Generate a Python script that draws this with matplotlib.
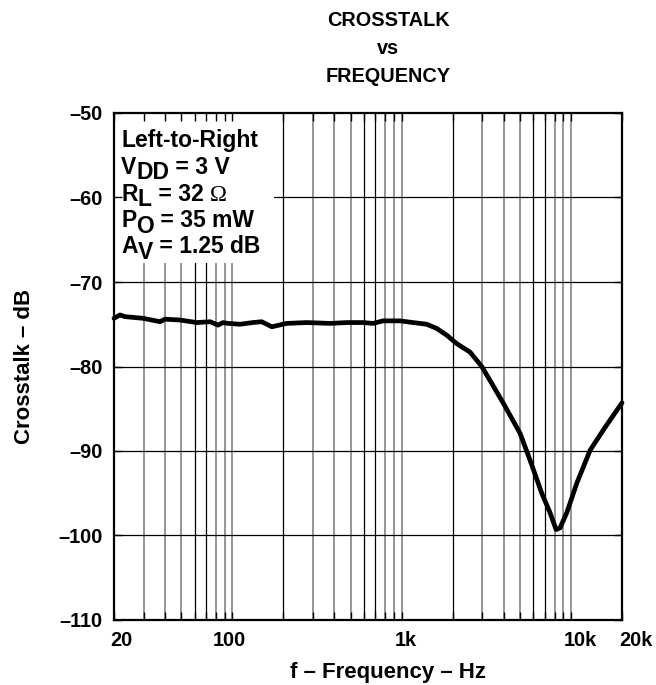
import matplotlib
matplotlib.use("Agg")
import matplotlib.pyplot as plt
import matplotlib.transforms as mtransforms
from matplotlib.patches import Rectangle

plt.rcParams['font.family'] = ['Liberation Sans', 'DejaVu Sans']
plt.rcParams['font.weight'] = 'bold'

# crosstalk curve
freq = [20, 21.7, 23.2, 29.8, 37.4, 40, 49, 61.6, 73.8, 82.3,
        88.1, 94.3, 111, 132, 149, 171, 209, 275, 378, 473,
        592, 678, 776, 978, 1167, 1406, 1611, 1846, 2114, 2535,
        2971, 3403, 3970, 5001, 5731, 6718, 7517, 8165, 8614, 9440,
        10820, 12970, 15890, 20000]
xtalk = [-74.3, -73.9, -74.1, -74.3, -74.7, -74.4, -74.5, -74.8, -74.7, -75.1,
         -74.8, -74.9, -75.0, -74.8, -74.7, -75.3, -74.9, -74.8, -74.9, -74.8,
         -74.8, -74.9, -74.6, -74.6, -74.8, -75.0, -75.5, -76.3, -77.3, -78.3,
         -80.0, -82.0, -84.3, -87.9, -91.1, -95.0, -97.3, -99.3, -99.1, -97.3,
         -93.8, -89.9, -87.2, -84.3]

xticks = [20, 100, 1000, 10000, 20000]
xticklabels = ['20', '100', '1k', '10k', '20k']
yticks = [-110, -100, -90, -80, -70, -60, -50]
yticklabels = ['\u2013110', '\u2013100', '\u201390', '\u201380', '\u201370', '\u201360', '\u201350']

FS_TICK = 14.3
FS_TITLE = 14.3
FS_LAB = 16
FS_COND = 16.5

fig = plt.figure(figsize=(6.56, 6.85), dpi=100)
ax = fig.add_axes([114 / 656, 65 / 685, 508 / 656, 507 / 685])
ax.set_xscale('log')
ax.set_xlim(20, 20000)
ax.set_ylim(-110, -50)

# grid: gray minor lines, black lines at 2, 6, 7 of each decade
for dec in [10, 100, 1000]:
    for m in range(2, 11):
        f = m * dec
        if f <= 20 or f >= 20000:
            continue
        if m in (2, 6, 7):
            ax.axvline(f, color='black', lw=0.9, zorder=1)
        else:
            ax.axvline(f, color='#8c8c8c', lw=1.3, zorder=1)
for y in yticks[1:-1]:
    ax.axhline(y, color='black', lw=0.9, zorder=1)

# white box behind the conditions text
ax.add_patch(Rectangle((20, -67.75), 155, 20, facecolor='white', edgecolor='none', zorder=1.5))

ax.plot(freq, xtalk, color='black', lw=3.4, solid_joinstyle='round', solid_capstyle='round',
        zorder=4, clip_on=False)

ax.set_xticks(xticks)
ax.set_xticklabels(xticklabels)
ax.set_yticks(yticks)
ax.set_yticklabels(yticklabels)
ax.xaxis.set_minor_formatter(plt.NullFormatter())
ax.tick_params(which='both', direction='in', top=True, right=True, length=6, width=1, pad=8,
               labelsize=FS_TICK)
for lab in ax.get_xticklabels() + ax.get_yticklabels():
    lab.set_fontweight('bold')

# small sideways shifts of the x labels as in the original
shifts = [7, -3, 4, 9, 14]
for lab, dx in zip(ax.get_xticklabels(), shifts):
    lab.set_transform(lab.get_transform() + mtransforms.ScaledTranslation(dx / 100, 0, fig.dpi_scale_trans))

for s in ax.spines.values():
    s.set_linewidth(1.6)
    s.set_zorder(5)

ax.set_xlabel('f \u2013 Frequency \u2013 Hz', fontsize=FS_LAB, fontweight='bold', va='center')
ax.xaxis.set_label_coords(0.539, -0.1026)
ax.set_ylabel('Crosstalk \u2013 dB', fontsize=FS_LAB, fontweight='bold', va='center')
ax.yaxis.set_label_coords(-0.177, 0.5)

for ty, txt in [(20, 'CROSSTALK'), (49, 'vs'), (77, 'FREQUENCY')]:
    fig.text(388 / 656, 1 - ty / 685, txt, ha='center', va='center', fontsize=FS_TITLE,
             fontweight='bold')


def cond_line(y, parts):
    # parts: list of (text, dy_points, family)
    prev = None
    for txt, dy, fam in parts:
        kw = dict(fontsize=FS_COND, fontweight='bold', va='bottom', ha='left', zorder=3)
        if fam:
            kw['family'] = fam
            kw['fontweight'] = 'normal'
        if prev is None:
            prev = ax.text(0.014, y, txt, transform=ax.transAxes, **kw)
        else:
            prev = ax.annotate(txt, xy=(1, 0), xycoords=prev, xytext=(0, dy),
                               textcoords='offset points', **kw)
    return prev


cond_line(0.923, [('Left-to-Right', 0, None)])
cond_line(0.870, [('V', 0, None), ('DD', -4, None), (' = 3 V', 4, None)])
cond_line(0.817, [('R', 0, None), ('L', -4, None), (' = 32 ', 4, None), ('\u03a9', 0, 'Liberation Serif')])
cond_line(0.765, [('P', 0, None), ('O', -4, None), (' = 35 mW', 4, None)])
cond_line(0.714, [('A', 0, None), ('V', -4, None), (' = 1.25 dB', 4, None)])

fig.savefig('out.png', dpi=100)
